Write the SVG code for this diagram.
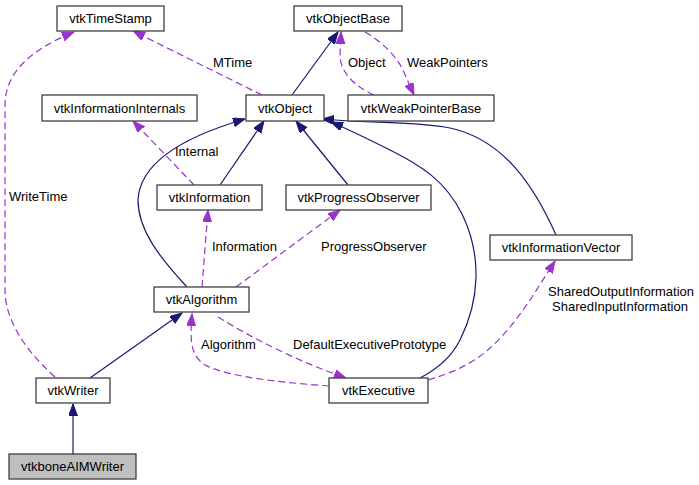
<svg xmlns="http://www.w3.org/2000/svg" width="699" height="485" viewBox="0 0 699 485">
<style>
text{font-family:"Liberation Sans",Arial,sans-serif;font-size:13px;fill:#000}
.node rect{fill:#fff;stroke:#404040;stroke-width:1.3}
.node text{text-anchor:middle}
.sel rect{fill:#bfbfbf}
.inh{fill:none;stroke:#191970;stroke-width:1.2;marker-end:url(#an)}
.use{fill:none;stroke:#9a32cd;stroke-width:1.2;stroke-dasharray:7,4;marker-end:url(#ap)}
</style>
<defs>
<marker id="an" markerUnits="userSpaceOnUse" markerWidth="14" markerHeight="12" refX="12" refY="4.5" orient="auto" viewBox="0 0 14 12"><path d="M0,0 L12,4.5 L0,9 z" fill="#191970" stroke="#191970"/></marker>
<marker id="ap" markerUnits="userSpaceOnUse" markerWidth="14" markerHeight="12" refX="12" refY="4.5" orient="auto" viewBox="0 0 14 12"><path d="M0,0 L12,4.5 L0,9 z" fill="#9a32cd" stroke="#9a32cd"/></marker>
</defs>
<g id="connectors">
<path class="inh" d="M292,95 L338,32"/>
<path class="use" d="M374,95 C354,86 340,72 340,55 L341,32"/>
<path class="use" d="M365,32 C382,42 395,55 402,68 L414,95"/>
<path class="use" d="M262,95 L133,31"/>
<path class="use" d="M55,377 C25,350 5,320 5,290 L5,105 C5,70 35,48 74,32"/>
<path class="use" d="M194,185 L133,121"/>
<path class="inh" d="M220,185 L264,121"/>
<path class="inh" d="M348,185 L296,121"/>
<path class="inh" d="M187,287 C160,258 138,230 138,200 C140,160 190,135 245,119"/>
<path class="inh" d="M420,378 C445,365 455,350 460,340 C480,300 482,255 462,214 C445,180 420,165 390,150 C370,140 350,130 331,122"/>
<path class="inh" d="M556,235 C535,188 505,140 450,128 C415,121 380,124 322,119"/>
<path class="use" d="M202,287 L208,210"/>
<path class="use" d="M236,287 L340,210"/>
<path class="inh" d="M90,378 L182,313"/>
<path class="use" d="M329,386 C290,383 230,378 205,365 C190,355 190,340 192,314"/>
<path class="use" d="M218,317 C255,340 300,362 346,378"/>
<path class="use" d="M428,380 C455,372 475,362 490,348 C505,335 520,315 532,297 L555,261"/>
<text x="213" y="67">MTime</text>
<text x="348" y="67">Object</text>
<text x="407" y="67">WeakPointers</text>
<text x="175" y="156">Internal</text>
<text x="9" y="201">WriteTime</text>
<text x="212" y="251">Information</text>
<text x="321" y="251">ProgressObserver</text>
<text x="201" y="349">Algorithm</text>
<text x="293" y="349">DefaultExecutivePrototype</text>
<text x="548" y="296">SharedOutputInformation</text>
<text x="552" y="311">SharedInputInformation</text>
</g>
<g id="vtkTimeStamp" class="node"><rect x="57" y="6" width="107" height="25"/><text x="110.5" y="23">vtkTimeStamp</text></g>
<g id="vtkObjectBase" class="node"><rect x="294" y="6" width="108" height="25"/><text x="348" y="23">vtkObjectBase</text></g>
<g id="vtkInformationInternals" class="node"><rect x="42" y="95" width="155" height="26"/><text x="119.5" y="112.5">vtkInformationInternals</text></g>
<g id="vtkObject" class="node"><rect x="246" y="95" width="78" height="26"/><text x="285" y="112.5">vtkObject</text></g>
<g id="vtkWeakPointerBase" class="node"><rect x="348" y="95" width="146" height="26"/><text x="421" y="112.5">vtkWeakPointerBase</text></g>
<g id="vtkInformation" class="node"><rect x="157" y="185" width="105" height="25"/><text x="209.5" y="202">vtkInformation</text></g>
<g id="vtkProgressObserver" class="node"><rect x="286" y="185" width="145" height="25"/><text x="358.5" y="202">vtkProgressObserver</text></g>
<g id="vtkInformationVector" class="node"><rect x="490" y="235" width="142" height="25"/><text x="561" y="252">vtkInformationVector</text></g>
<g id="vtkAlgorithm" class="node"><rect x="154" y="287" width="95" height="25"/><text x="201.5" y="304">vtkAlgorithm</text></g>
<g id="vtkWriter" class="node"><rect x="36" y="378" width="74" height="25"/><text x="73" y="395">vtkWriter</text></g>
<g id="vtkExecutive" class="node"><rect x="329" y="378" width="99" height="25"/><text x="378.5" y="395">vtkExecutive</text></g>
<g id="vtkboneAIMWriter" class="node sel"><rect x="9" y="454" width="127" height="25"/><text x="72.5" y="471">vtkboneAIMWriter</text></g>
<path class="inh" d="M73,454 L73,404"/>
</svg>
